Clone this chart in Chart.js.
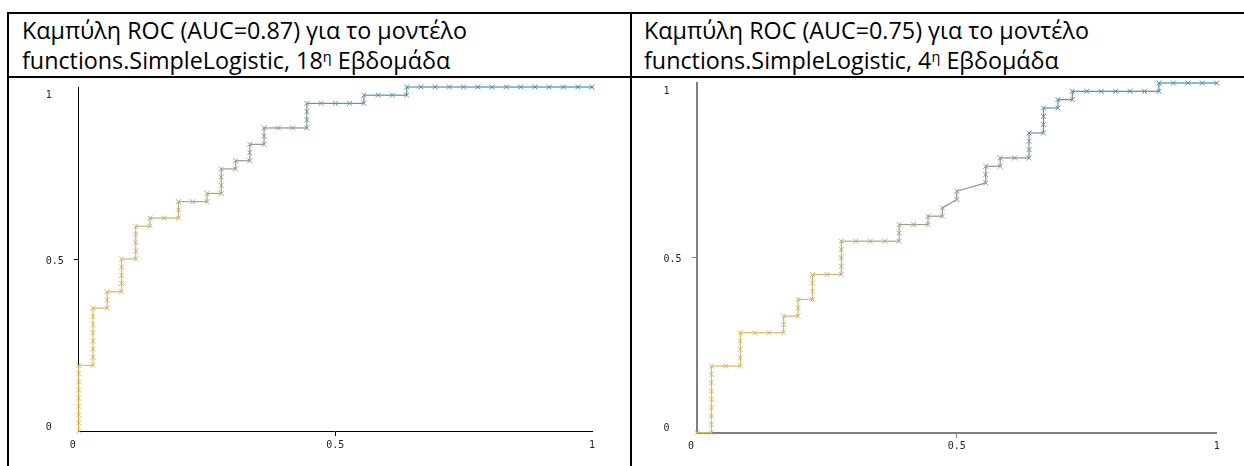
<!DOCTYPE html>
<html>
<head>
<meta charset="utf-8">
<script src="https://cdn.jsdelivr.net/npm/chart.js@4.4.1/dist/chart.umd.min.js"></script>
<style>
  body { margin: 0; width: 1244px; height: 466px; background: #fff; position: relative; overflow: hidden; font-family: "Open Sans", "Noto Sans", sans-serif; }
  .rule { position: absolute; background: #000; }
  .head { position: absolute; font-size: 23px; line-height: 30px; color: #000; white-space: nowrap; transform-origin: 0 0; }
  .head sup { font-size: 0.62em; vertical-align: 0; position: relative; top: -0.5em; }
  canvas { position: absolute; }
</style>
</head>
<body>
<!-- table borders -->
<div class="rule" style="left:7px;top:12px;width:1237px;height:2px"></div>
<div class="rule" style="left:7px;top:76px;width:1237px;height:1.5px"></div>
<div class="rule" style="left:7px;top:12px;width:2px;height:454px"></div>
<div class="rule" style="left:630px;top:12px;width:2px;height:454px"></div>

<div class="head" id="head18" style="left:22px;top:15px">
  <div class="l1">Καμπύλη ROC (AUC=0.87) για το μοντέλο</div>
  <div>functions.SimpleLogistic, 18<sup>η</sup> Εβδομάδα</div>
</div>
<div class="head" id="head4" style="left:644px;top:15px">
  <div class="l1">Καμπύλη ROC (AUC=0.75) για το μοντέλο</div>
  <div>functions.SimpleLogistic, 4<sup>η</sup> Εβδομάδα</div>
</div>

<canvas id="roc18" width="620" height="388" style="left:9px;top:78px"></canvas>
<canvas id="roc4" width="612" height="388" style="left:632px;top:78px"></canvas>

<script>
// ROC points as counts of false / true positives (36 negatives, 42 positives)
const negCount = 36;
const posCount = 42;
const tickValues = [0, 0.5, 1];
const tickLabels = ['0', '0.5', '1'];

// Week 18
const week18Fp = [0,0,0,0,0,0,0,0,0,
  1,1,1,1,1,1,1,1,
  2,2,2,
  3,3,3,3,3,
  4,4,4,4,4,
  5,5,
  6,7,7,7,
  8,9,9,
  10,10,10,10,
  11,11,
  12,12,12,
  13,13,13,
  14,15,16,16,16,16,
  17,18,19,20,20,
  21,22,23,23,
  24,25,26,27,28,29,30,31,32,33,34,35,36];
const week18Tp = [0,1,2,3,4,5,6,7,8,
  8,9,10,11,12,13,14,15,
  15,16,17,
  17,18,19,20,21,
  21,22,23,24,25,
  25,26,
  26,26,27,28,
  28,28,29,
  29,30,31,32,
  32,33,
  33,34,35,
  35,36,37,
  37,37,37,38,39,40,
  40,40,40,40,41,
  41,41,41,42,
  42,42,42,42,42,42,42,42,42,42,42,42,42];

// Week 4
const week4Fp = [0,1,1,1,1,1,1,1,1,1,
  2,3,3,3,3,3,
  4,5,6,6,6,
  7,7,7,
  8,8,8,8,
  9,10,10,10,10,10,
  11,12,13,14,14,14,
  15,16,16,
  17,17,
  18,18,
  20,20,20,
  21,21,
  22,23,23,23,23,
  24,24,24,24,
  25,25,
  26,26,
  27,28,29,30,31,32,32,
  33,34,35,36];
const week4Tp = [0,0,1,2,3,4,5,6,7,8,
  8,8,9,10,11,12,
  12,12,12,13,14,
  14,15,16,
  16,17,18,19,
  19,19,20,21,22,23,
  23,23,23,23,24,25,
  25,25,26,
  26,27,
  28,29,
  30,31,32,
  32,33,
  33,33,34,35,36,
  36,37,38,39,
  39,40,
  40,41,
  41,41,41,41,41,41,42,
  42,42,42,42];

// threshold colour ramp (yellow -> grey -> blue)
const ramp = [
  [0.0, [222, 188, 86]],
  [0.35, [206, 182, 110]],
  [0.6, [148, 152, 138]],
  [0.85, [84, 142, 170]],
  [1.0, [58, 142, 186]]
];
function rampColor(t) {
  for (let i = 1; i < ramp.length; i++) {
    if (t <= ramp[i][0]) {
      const [t0, c0] = ramp[i - 1];
      const [t1, c1] = ramp[i];
      const k = (t - t0) / (t1 - t0);
      const c = c0.map((v, j) => Math.round(v + (c1[j] - v) * k));
      return `rgb(${c[0]},${c[1]},${c[2]})`;
    }
  }
  return 'rgb(58,142,186)';
}

function labelFor(v) {
  return tickLabels[tickValues.indexOf(v)];
}

function rocChart(id, fp, tp, box) {
  const pts = fp.map((f, i) => ({ x: f / negCount, y: tp[i] / posCount }));
  const colors = pts.map((p, i) => rampColor(i / (pts.length - 1)));
  const tickFont = { family: 'DejaVu Sans Mono', size: 10 };
  const tickMark = (c) => (c.tick && c.tick.value === 0.5 ? box.axis : 'rgba(0,0,0,0)');
  const setTicks = (s) => { s.ticks = tickValues.map((v) => ({ value: v })); };

  return new Chart(document.getElementById(id), {
    type: 'scatter',
    data: {
      datasets: [{
        data: pts,
        showLine: true,
        borderWidth: 1.2,
        segment: { borderColor: (ctx) => colors[ctx.p1DataIndex] },
        borderColor: colors[0],
        pointStyle: 'crossRot',
        pointRadius: 3.5,
        pointBorderWidth: 1,
        pointBorderColor: colors,
        pointBackgroundColor: colors,
        clip: false
      }]
    },
    options: {
      responsive: false,
      animation: false,
      events: [],
      layout: { padding: box.padding },
      plugins: { legend: { display: false }, tooltip: { enabled: false } },
      scales: {
        x: {
          type: 'linear', min: 0, max: 1,
          afterBuildTicks: setTicks,
          afterFit: (s) => { s.height = 30; s.paddingLeft = 0; s.paddingRight = 0; },
          border: { display: true, color: box.axis, width: box.axisWidth },
          grid: { drawOnChartArea: false, drawTicks: true, tickLength: 5, color: tickMark },
          ticks: {
            font: tickFont, color: '#222', padding: 3, maxRotation: 0, autoSkip: false,
            // the first label sits a little left of its tick in the original
            callback: (v) => (v === 0 ? labelFor(v) + '  ' : labelFor(v))
          }
        },
        y: {
          type: 'linear', min: 0, max: 1,
          afterBuildTicks: setTicks,
          afterFit: (s) => { s.width = box.yWidth; s.paddingTop = 0; s.paddingBottom = 0; },
          border: { display: true, color: box.axis, width: box.axisWidth },
          grid: { drawOnChartArea: false, drawTicks: true, tickLength: 5, color: tickMark },
          ticks: {
            font: tickFont, color: '#222', crossAlign: 'far', labelOffset: 2, autoSkip: false,
            callback: (v) => (v === 1 ? ['', labelFor(v)] : v === 0 ? [labelFor(v), ''] : labelFor(v))
          }
        }
      }
    }
  });
}

rocChart('roc18', week18Fp, week18Tp, {
  padding: { left: 36.7, right: 37, top: 9, bottom: 5 },
  yWidth: 33, axis: '#000', axisWidth: 1
});
rocChart('roc4', week4Fp, week4Tp, {
  padding: { left: 31.5, right: 27.3, top: 4.7, bottom: 3.3 },
  yWidth: 33.5, axis: '#7f7f7f', axisWidth: 2
});

// squeeze header text to the width of the original Calibri lines
document.querySelectorAll('.head').forEach((h) => {
  const l1 = h.querySelector('.l1');
  const r = document.createRange();
  r.selectNodeContents(l1);
  const w = r.getBoundingClientRect().width;
  h.style.transform = `scaleX(${445 / w})`;
});
</script>
</body>
</html>
